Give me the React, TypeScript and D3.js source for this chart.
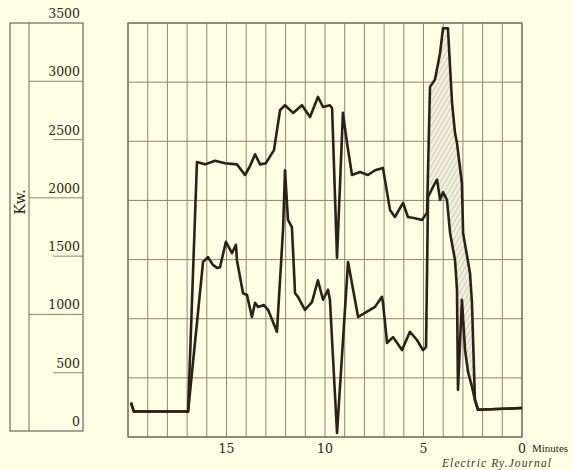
import React, { useEffect, useRef } from "react";
import * as d3 from "d3";

// kW scale and minute labels
const kwTicks = [0, 500, 1000, 1500, 2000, 2500, 3000, 3500];
const rulerLong = [1000, 2000, 3000];
const rulerShort = [500, 1500, 2500];
const minuteLabels = [15, 10, 5, 0];

// [minutes before zero, kW]
const upperCurve: [number, number][] = [
  [19.85, 290], [19.7, 215], [16.95, 215], [16.5, 2325], [16.09, 2305], [15.58, 2335],
  [15.08, 2315], [14.47, 2305], [14.06, 2215], [13.81, 2290], [13.55, 2390], [13.3, 2305],
  [13.0, 2315], [12.59, 2425], [12.28, 2765], [12.03, 2805], [11.62, 2740], [11.17, 2805],
  [10.76, 2705], [10.36, 2875], [10.1, 2790], [9.75, 2805], [9.64, 2780], [9.39, 1515],
  [9.09, 2740], [8.88, 2485], [8.63, 2215], [8.22, 2240], [7.82, 2215], [7.46, 2255],
  [7.06, 2275], [6.7, 1920], [6.45, 1860], [6.04, 1980], [5.79, 1860], [5.43, 1850],
  [5.08, 1835], [4.82, 1895], [4.67, 2960], [4.42, 3020], [4.16, 3245], [4.01, 3455],
  [3.76, 3455], [3.55, 2825], [3.4, 2570], [3.3, 2485], [3.05, 2145], [2.99, 1725],
  [2.64, 1385], [2.54, 1135], [2.39, 315], [2.23, 230], [0, 245]
];

const lowerCurve: [number, number][] = [
  [19.85, 290], [19.7, 215], [16.95, 215], [16.19, 1480], [15.94, 1520], [15.69, 1455],
  [15.48, 1430], [15.33, 1435], [15.03, 1650], [14.72, 1555], [14.52, 1625], [14.47, 1495],
  [14.16, 1215], [13.96, 1200], [13.71, 1015], [13.55, 1135], [13.4, 1100], [13.1, 1115],
  [12.89, 1075], [12.44, 890], [12.13, 1750], [12.03, 2255], [11.88, 1835], [11.68, 1775],
  [11.52, 1215], [11.37, 1185], [11.02, 1075], [10.66, 1140], [10.36, 1325], [10.1, 1160],
  [9.85, 1245], [9.75, 1160], [9.39, 35], [8.83, 1480], [8.32, 1015], [7.97, 1050],
  [7.46, 1100], [7.11, 1185], [7.06, 1140], [6.85, 795], [6.55, 845], [6.09, 735],
  [5.69, 890], [5.33, 820], [5.03, 735], [4.87, 760], [4.77, 2030], [4.42, 2145],
  [4.31, 2175], [4.16, 2005], [4.01, 2070], [3.81, 2005], [3.65, 1725], [3.4, 1495],
  [3.3, 1245], [3.25, 400], [3.05, 1160], [2.89, 735], [2.74, 550], [2.54, 425],
  [2.39, 315], [2.23, 230], [0, 245]
];

const hatchStart = 4.85;
const hatchEnd = 2.2;

export default function App() {
  const ref = useRef<SVGSVGElement>(null);

  useEffect(() => {
    const svg = d3.select(ref.current);
    svg.selectAll("*").remove();

    const bg = "#fdfde3";
    const ink = "#2a2119";
    const grid = "#8a8774";
    const text = "#2a2720";
    const font = "'DejaVu Serif', serif";
    const chart = { left: 128, right: 522, top: 23, bottom: 437 };

    const x = d3.scaleLinear().domain([20, 0]).range([chart.left, chart.right]);
    const y = d3.scaleLinear().domain([0, 3500]).range([chart.bottom, chart.top]);
    const yRuler = d3.scaleLinear().domain([0, 3500]).range([431, 23]);

    svg.append("rect").attr("width", 573).attr("height", 470).attr("fill", bg);

    // hatch pattern
    const defs = svg.append("defs");
    const pat = defs.append("pattern")
      .attr("id", "hatch")
      .attr("width", 4).attr("height", 4)
      .attr("patternUnits", "userSpaceOnUse")
      .attr("patternTransform", "rotate(30)");
    pat.append("rect").attr("width", 4).attr("height", 4).attr("fill", "#f1f0dc");
    pat.append("line").attr("x1", 0).attr("y1", 0).attr("x2", 0).attr("y2", 4)
      .attr("stroke", "#9c9988").attr("stroke-width", 0.8);

    // ruler on the left
    const ruler = svg.append("g");
    ruler.append("rect")
      .attr("x", 10).attr("y", yRuler(3500))
      .attr("width", 73).attr("height", yRuler(0) - yRuler(3500))
      .attr("fill", "none").attr("stroke", "#6d6a5b").attr("stroke-width", 1.2);
    ruler.append("line")
      .attr("x1", 29).attr("x2", 29).attr("y1", yRuler(3500)).attr("y2", yRuler(0))
      .attr("stroke", "#6d6a5b");
    ruler.selectAll(".long").data(rulerLong).enter().append("line")
      .attr("x1", 29).attr("x2", 83)
      .attr("y1", d => yRuler(d)).attr("y2", d => yRuler(d))
      .attr("stroke", grid);
    ruler.selectAll(".short").data(rulerShort).enter().append("line")
      .attr("x1", 53).attr("x2", 83)
      .attr("y1", d => yRuler(d)).attr("y2", d => yRuler(d))
      .attr("stroke", grid);
    ruler.selectAll(".lbl").data(kwTicks).enter().append("text")
      .attr("x", 80).attr("y", d => yRuler(d) - 5)
      .attr("text-anchor", "end")
      .attr("font-family", font).attr("font-size", 12.5)
      .attr("fill", text)
      .text(d => String(d));
    ruler.append("text")
      .attr("transform", "translate(25,202) rotate(-90)")
      .attr("text-anchor", "middle")
      .attr("font-family", font).attr("font-size", 14)
      .attr("fill", text)
      .text("Kw.");

    // main grid
    const g = svg.append("g");
    g.selectAll(".vg").data(d3.range(0, 21)).enter().append("line")
      .attr("x1", d => x(d)).attr("x2", d => x(d))
      .attr("y1", chart.top).attr("y2", chart.bottom)
      .attr("stroke", grid).attr("stroke-width", 1);
    g.selectAll(".hg").data(kwTicks).enter().append("line")
      .attr("x1", chart.left).attr("x2", chart.right)
      .attr("y1", d => y(d)).attr("y2", d => y(d))
      .attr("stroke", grid).attr("stroke-width", 1);
    g.append("rect")
      .attr("x", chart.left).attr("y", chart.top)
      .attr("width", chart.right - chart.left).attr("height", chart.bottom - chart.top)
      .attr("fill", "none").attr("stroke", "#6d6a5b").attr("stroke-width", 1.2);

    // hatched band between the curves
    const up = upperCurve.filter(d => d[0] <= hatchStart && d[0] >= hatchEnd);
    const low = lowerCurve.filter(d => d[0] <= hatchStart && d[0] >= hatchEnd).reverse();
    const poly = d3.line<[number, number]>().x(d => x(d[0])).y(d => y(d[1]));
    g.append("path")
      .attr("d", poly(up.concat(low)) + "Z")
      .attr("fill", "url(#hatch)");

    const line = d3.line<[number, number]>()
      .x(d => x(d[0])).y(d => y(d[1]));
    [upperCurve, lowerCurve].forEach(c => {
      g.append("path")
        .attr("d", line(c))
        .attr("fill", "none")
        .attr("stroke", ink)
        .attr("stroke-width", 2.6)
        .attr("stroke-linejoin", "round");
    });

    // x labels
    g.selectAll(".xl").data(minuteLabels).enter().append("text")
      .attr("x", d => x(d)).attr("y", 453)
      .attr("text-anchor", "middle")
      .attr("font-family", font).attr("font-size", 12.5)
      .attr("fill", text)
      .text(d => String(d));
    g.append("text")
      .attr("x", 532).attr("y", 452)
      .attr("font-family", "'Liberation Serif', serif").attr("font-size", 11)
      .attr("fill", text)
      .text("Minutes");
    g.append("text")
      .attr("x", 442).attr("y", 467)
      .attr("font-family", "'Liberation Serif', serif").attr("font-size", 11.5)
      .attr("font-style", "italic")
      .attr("letter-spacing", 1.1)
      .attr("fill", "#3a3629")
      .text("Electric Ry.Journal");
  }, []);

  return (
    <>
      <style>{"body{margin:0;background:#fdfde3}"}</style>
      <svg ref={ref} width={573} height={470} style={{ display: "block" }} />
    </>
  );
}
